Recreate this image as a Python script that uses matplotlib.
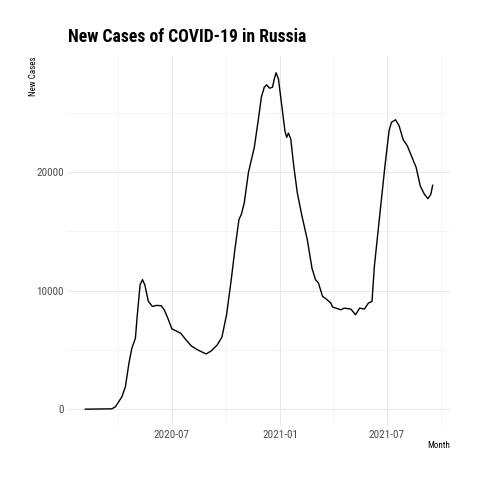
import matplotlib
matplotlib.use("Agg")
import matplotlib.pyplot as plt
import matplotlib.dates as mdates
import pandas as pd
import logging
logging.getLogger("matplotlib.font_manager").setLevel(logging.ERROR)

dates = [
    "2020-02-05", "2020-03-21", "2020-03-27", "2020-04-07", "2020-04-13", "2020-04-19",
    "2020-04-24", "2020-04-30", "2020-05-03", "2020-05-08", "2020-05-12", "2020-05-16",
    "2020-05-22", "2020-05-29", "2020-06-05", "2020-06-13", "2020-06-18", "2020-06-24",
    "2020-07-01", "2020-07-08", "2020-07-16", "2020-07-25", "2020-08-03", "2020-08-14",
    "2020-08-28", "2020-09-06", "2020-09-16", "2020-09-24", "2020-10-02", "2020-10-10",
    "2020-10-16", "2020-10-23", "2020-10-27", "2020-11-01", "2020-11-08", "2020-11-12",
    "2020-11-18", "2020-11-25", "2020-11-30", "2020-12-05", "2020-12-09", "2020-12-14",
    "2020-12-19", "2020-12-22", "2020-12-25", "2020-12-29", "2021-01-03", "2021-01-09",
    "2021-01-12", "2021-01-15", "2021-01-19", "2021-01-24", "2021-01-30", "2021-02-07",
    "2021-02-16", "2021-02-24", "2021-03-02", "2021-03-07", "2021-03-14", "2021-03-19",
    "2021-03-28", "2021-03-31", "2021-04-14", "2021-04-20", "2021-05-01", "2021-05-09",
    "2021-05-16", "2021-05-24", "2021-05-31", "2021-06-06", "2021-06-10", "2021-06-19",
    "2021-06-28", "2021-07-05", "2021-07-09", "2021-07-16", "2021-07-22", "2021-07-29",
    "2021-08-05", "2021-08-13", "2021-08-20", "2021-08-27", "2021-09-03", "2021-09-09",
    "2021-09-14", "2021-09-17",
]
new_cases = [
    0, 30, 200, 1040, 1890, 3870,
    5140, 5990, 7820, 10500, 10930, 10500,
    9100, 8670, 8760, 8730, 8390, 7690,
    6780, 6610, 6410, 5850, 5340, 5000,
    4660, 4920, 5420, 6080, 8000, 11000,
    13470, 16020, 16440, 17420, 19970, 20820,
    22090, 24490, 26330, 27180, 27370, 27090,
    27180, 27880, 28390, 27880, 25900, 23500,
    22940, 23300, 22800, 20540, 18280, 16300,
    14320, 11900, 10930, 10650, 9520, 9350,
    8960, 8620, 8390, 8530, 8450, 7970,
    8530, 8450, 8960, 9100, 12060, 16300,
    20540, 23500, 24210, 24430, 23920, 22740,
    22230, 21250, 20400, 18840, 18140, 17770,
    18140, 18900,
]
y_ticks = [0, 10000, 20000]
y_minor = [5000, 15000, 25000]
x_ticks = ["2020-07-01", "2021-01-01", "2021-07-01"]
x_minor = ["2020-04-01", "2020-10-01", "2021-04-01", "2021-10-01"]

FONT = ["Liberation Sans Narrow", "Roboto Condensed", "Archivo Narrow", "DejaVu Sans"]
plt.rcParams["font.family"] = FONT

fig = plt.figure(figsize=(4.8, 4.8), dpi=100)
L, R, T, B = 68, 450, 56, 426
ax = fig.add_axes([L / 480, 1 - B / 480, (R - L) / 480, (B - T) / 480])

x = pd.to_datetime(dates)
ax.plot(x, new_cases, color="black", lw=1.0)
ax.margins(x=0.05, y=0.05)

ax.set_yticks(y_ticks)
ax.set_yticks(y_minor, minor=True)
ax.set_xticks(pd.to_datetime(x_ticks))
ax.set_xticks(pd.to_datetime(x_minor), minor=True)
ax.xaxis.set_major_formatter(mdates.DateFormatter("%Y-%m"))
ax.set_xlim(x[0] - pd.Timedelta(days=29.5), x[-1] + pd.Timedelta(days=29.5))

ax.grid(True, which="major", color="#E8E8E8", lw=0.8)
ax.grid(True, which="minor", color="#F0F0F0", lw=0.5)
ax.set_axisbelow(True)
for s in ax.spines.values():
    s.set_visible(False)
ax.tick_params(which="both", length=0)
ax.tick_params(axis="both", labelsize=8, labelcolor="#4D4D4D")
ax.tick_params(axis="y", pad=3)
ax.tick_params(axis="x", pad=3)

fig.text(450 / 480, 1 - 445 / 480, "Month", fontsize=6.5, color="black",
         ha="right", va="center")
fig.text(33 / 480, 1 - 57 / 480, "New Cases", fontsize=6.5, color="black",
         rotation=90, ha="center", va="top")

fig.text(L / 480, 1 - 37 / 480, "New Cases of COVID-19 in Russia",
         fontsize=12.7, fontweight="bold", ha="left", va="center")

fig.savefig("out.png", dpi=100)
